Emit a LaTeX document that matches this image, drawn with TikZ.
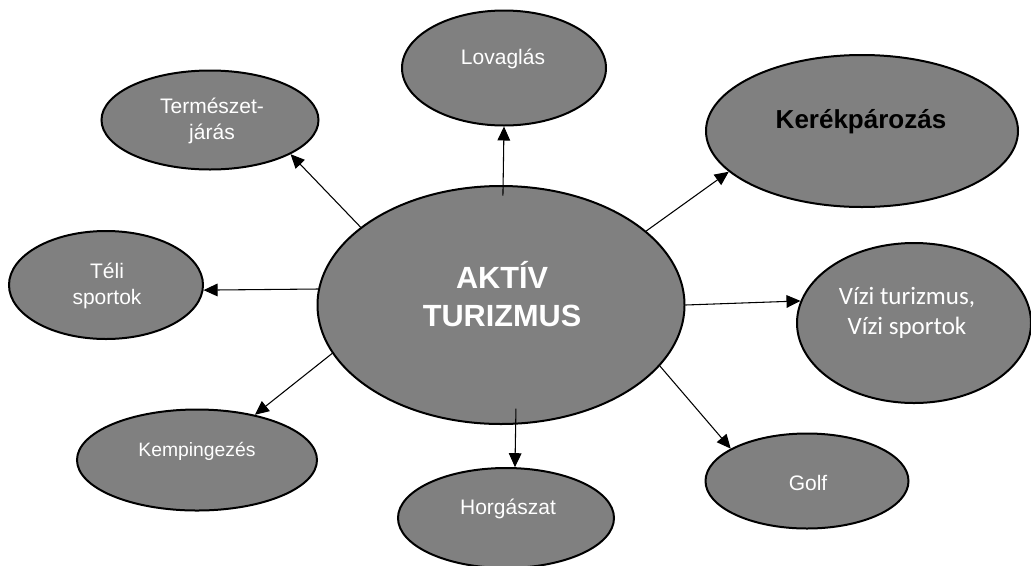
\documentclass[tikz,border=0pt]{standalone}
\usepackage{fontspec}
\newfontfamily\arial{Liberation Sans}
\newfontfamily\calibri{Carlito}
\usetikzlibrary{shapes.geometric,arrows.meta}
\definecolor{bubblegray}{RGB}{128,128,128}
\begin{document}
\begin{tikzpicture}[x=0.75pt,y=-0.75pt,
  bubble/.style={ellipse,draw=black,line width=1.5pt,fill=bubblegray,inner sep=0pt},
  lbl/.style={text=white,align=center,font=\arial\fontsize{15.75}{20}\selectfont},
  arr/.style={-{Triangle[length=10.5pt,width=9.5pt]},line width=0.8pt}]
\path[use as bounding box] (0,0) rectangle (1031,565);
\node[bubble,minimum width=275.25pt,minimum height=178.5pt] (aktiv) at (501,305) {};
\node[bubble,minimum width=153pt,minimum height=86.25pt] (lov) at (504,68) {};
\node[bubble,minimum width=162.75pt,minimum height=74.25pt] (term) at (210,120) {};
\node[bubble,minimum width=145.5pt,minimum height=81pt] (teli) at (106,285) {};
\node[bubble,minimum width=234pt,minimum height=114pt] (kerek) at (862,131) {};
\node[bubble,minimum width=175.5pt,minimum height=120pt] (vizi) at (914,323) {};
\node[bubble,minimum width=180pt,minimum height=75.75pt] (kemp) at (197,460) {};
\node[bubble,minimum width=162pt,minimum height=75pt] (horg) at (506,518) {};
\node[bubble,minimum width=152.25pt,minimum height=71.25pt] (golf) at (807,481) {};
\node[lbl,font=\arial\bfseries\fontsize{23}{28.5}\selectfont] (aktivtxt) at (502,294) {AKTÍV\\TURIZMUS};
\node[lbl] (lovtxt) at (503,59) {Lovaglás};
\node[lbl] (termtxt) at (212,121) {Természet-\\járás};
\node[lbl,font=\arial\fontsize{15.75}{19}\selectfont] (telitxt) at (107,286) {Téli\\sportok};
\node[lbl,text=black,font=\arial\bfseries\fontsize{19.5}{24}\selectfont] (kerektxt) at (861,122) {Kerékpározás};
\node[lbl,font=\calibri\fontsize{18.75}{22.5}\selectfont] (vizitxt) at (907,313) {Vízi turizmus,\\Vízi sportok};
\node[lbl,font=\arial\fontsize{14.5}{18}\selectfont] (kemptxt) at (197,451) {Kempingezés};
\node[lbl] (horgtxt) at (508,509) {Horgászat};
\node[lbl] (golftxt) at (808,483) {Golf};
\draw[arr,shorten <=-8pt] (aktiv.89) -- (lov.270);
\draw[arr] (aktiv.151) -- (term.337);
\draw[arr] (aktiv.175) -- (teli.357);
\draw[arr] (aktiv.196) -- (kemp.38);
\draw[arr,shorten <=-12pt] (aktiv.277) -- (horg.80);
\draw[arr] (aktiv.339) -- (golf.157);
\draw[arr] (aktiv.0) -- (vizi.169);
\draw[arr] (aktiv.27) -- (kerek.197);
\end{tikzpicture}
\end{document}
